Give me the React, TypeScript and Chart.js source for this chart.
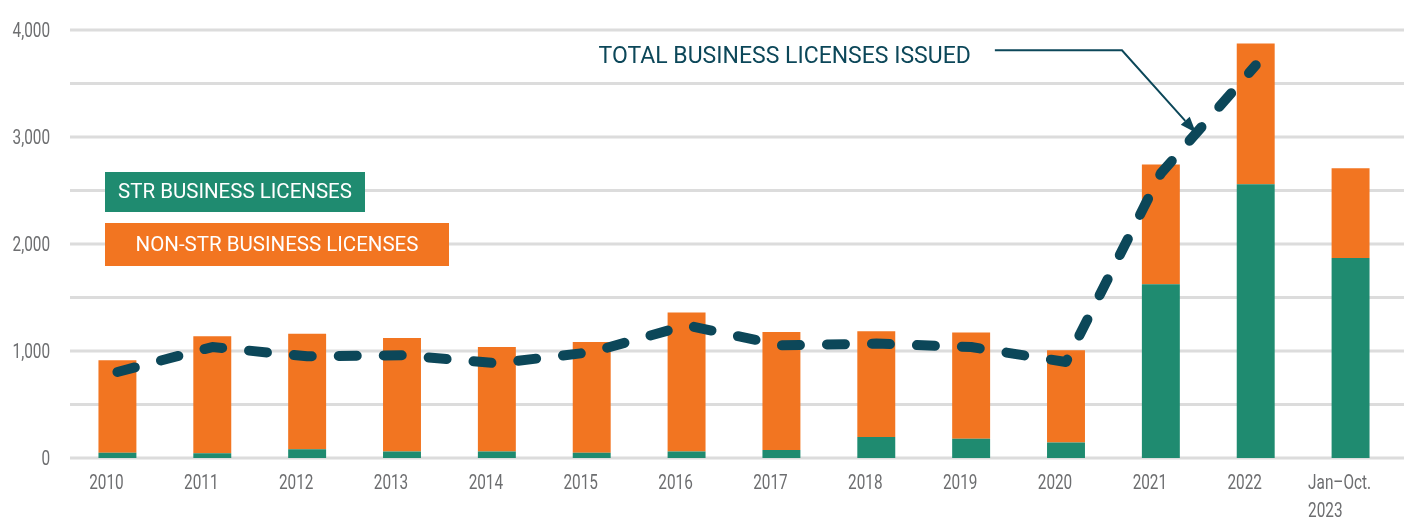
import React, { useEffect, useRef } from 'react';
import { Chart, registerables } from 'chart.js';

Chart.register(...registerables);

const categories: string[][] = [
  ['2010'], ['2011'], ['2012'], ['2013'], ['2014'], ['2015'], ['2016'],
  ['2017'], ['2018'], ['2019'], ['2020'], ['2021'], ['2022'], ['Jan–Oct.', '2023'],
];
const strValues = [50, 44, 81, 60, 60, 50, 60, 75, 196, 181, 144, 1623, 2558, 1869];
const nonStrValues = [863, 1093, 1081, 1061, 977, 1034, 1299, 1103, 988, 991, 862, 1119, 1315, 839];
const totalLine: (number | null)[] = [804, 1037, 950, 960, 885, 990, 1240, 1053, 1069, 1037, 897, 2660, 3670, null];
const yMax = 4000;
const yStep = 500;
const yTickLabels = [0, 1000, 2000, 3000, 4000];

const seriesLabels = {
  str: 'STR BUSINESS LICENSES',
  nonStr: 'NON-STR BUSINESS LICENSES',
  total: 'TOTAL BUSINESS LICENSES ISSUED',
};

const COLORS = {
  green: '#1f8b70',
  orange: '#f27521',
  line: '#0c4759',
  grid: '#dcdcdc',
  tick: '#6d6e70',
};

const TICK_FONT = '21px Roboto, "Liberation Sans", sans-serif';
const TICK_SCALE_X = 0.73;

const gridPlugin = {
  id: 'customGrid',
  beforeDatasetsDraw(chart: any) {
    const ctx = chart.ctx;
    const y = chart.scales.y;
    const left = chart.chartArea.left;
    ctx.save();
    ctx.strokeStyle = COLORS.grid;
    ctx.lineWidth = 3;
    for (let v = 0; v <= yMax; v += yStep) {
      const py = y.getPixelForValue(v);
      ctx.beginPath();
      ctx.moveTo(left, py);
      ctx.lineTo(chart.width, py);
      ctx.stroke();
    }
    ctx.restore();
  },
};

function condensedText(ctx: any, text: string, x: number, y: number, align: 'left' | 'right') {
  ctx.save();
  ctx.translate(x, y);
  ctx.scale(TICK_SCALE_X, 1);
  ctx.textAlign = align;
  ctx.fillText(text, 0, 0);
  ctx.restore();
}

const overlayPlugin = {
  id: 'overlay',
  afterDraw(chart: any) {
    const ctx = chart.ctx;
    const xs = chart.scales.x;
    const ys = chart.scales.y;
    const area = chart.chartArea;
    ctx.save();

    // tick labels
    ctx.font = TICK_FONT;
    ctx.fillStyle = COLORS.tick;
    ctx.textBaseline = 'alphabetic';
    categories.forEach((lines, i) => {
      const cx = xs.getPixelForValue(i) - 11;
      const w = Math.max(...lines.map((l) => ctx.measureText(l).width)) * TICK_SCALE_X;
      const lx = cx - w / 2;
      lines.forEach((l, j) => {
        condensedText(ctx, l, lx, area.bottom + 31 + j * 27.7, 'left');
      });
    });
    yTickLabels.forEach((v) => {
      condensedText(ctx, v.toLocaleString('en-US'), area.left - 20, ys.getPixelForValue(v) + 6.5, 'right');
    });

    // legend boxes
    const legendItems = [
      { text: seriesLabels.str, color: COLORS.green, top: 172, h: 40, w: 260 },
      { text: seriesLabels.nonStr, color: COLORS.orange, top: 223, h: 43, w: 344 },
    ];
    ctx.font = '20.5px Roboto, "Liberation Sans", sans-serif';
    ctx.textAlign = 'center';
    ctx.textBaseline = 'middle';
    legendItems.forEach((it) => {
      const bx = area.left + 35;
      ctx.fillStyle = it.color;
      ctx.fillRect(bx, it.top, it.w, it.h);
      ctx.fillStyle = '#ffffff';
      ctx.fillText(it.text, bx + it.w / 2, it.top + it.h / 2 + 1);
    });

    // annotation
    const tipX = xs.getPixelForValue(11.37);
    const tipY = ys.getPixelForValue(3040);
    const elbowX = xs.getPixelForValue(10.59);
    const lineY = ys.getPixelForValue(3810);
    const startX = xs.getPixelForValue(9.25);
    ctx.font = '23px Roboto, "Liberation Sans", sans-serif';
    ctx.fillStyle = COLORS.line;
    ctx.textAlign = 'right';
    ctx.textBaseline = 'middle';
    ctx.fillText(seriesLabels.total, startX - 24, lineY + 7);

    ctx.strokeStyle = COLORS.line;
    ctx.lineWidth = 2;
    const ang = Math.atan2(tipY - lineY, tipX - elbowX);
    const headLen = 16;
    const baseX = tipX - Math.cos(ang) * headLen;
    const baseY = tipY - Math.sin(ang) * headLen;
    ctx.beginPath();
    ctx.moveTo(startX, lineY);
    ctx.lineTo(elbowX, lineY);
    ctx.lineTo(baseX, baseY);
    ctx.stroke();
    const hw = 6;
    ctx.beginPath();
    ctx.moveTo(tipX, tipY);
    ctx.lineTo(baseX + Math.sin(ang) * hw, baseY - Math.cos(ang) * hw);
    ctx.lineTo(baseX - Math.sin(ang) * hw, baseY + Math.cos(ang) * hw);
    ctx.closePath();
    ctx.fillStyle = COLORS.line;
    ctx.fill();

    ctx.restore();
  },
};

export default function App() {
  const ref = useRef<HTMLCanvasElement | null>(null);

  useEffect(() => {
    if (!ref.current) return;
    const chart = new Chart(ref.current, {
      type: 'bar',
      data: {
        labels: categories.map((c) => c.join(' ')),
        datasets: [
          {
            type: 'line',
            label: seriesLabels.total,
            data: totalLine,
            borderColor: COLORS.line,
            borderWidth: 10,
            borderDash: [18, 27],
            borderCapStyle: 'round',
            borderJoinStyle: 'round',
            pointRadius: 0,
            tension: 0,
            fill: false,
            stack: 'total',
            order: 0,
          } as any,
          {
            label: seriesLabels.str,
            data: strValues,
            backgroundColor: COLORS.green,
            stack: 'licenses',
            order: 1,
          },
          {
            label: seriesLabels.nonStr,
            data: nonStrValues,
            backgroundColor: COLORS.orange,
            stack: 'licenses',
            order: 1,
          },
        ],
      },
      options: {
        responsive: false,
        animation: false,
        layout: { padding: { top: 30, right: 6, left: 0, bottom: 0 } },
        datasets: {
          bar: { categoryPercentage: 1, barPercentage: 0.4 },
        },
        plugins: {
          legend: { display: false },
          tooltip: { enabled: false },
        },
        scales: {
          x: {
            stacked: true,
            offset: true,
            ticks: { display: false },
            grid: { display: false },
            border: { display: false },
            afterFit: (s: any) => {
              s.height = 71;
            },
          },
          y: {
            stacked: true,
            min: 0,
            max: yMax,
            ticks: { display: false, stepSize: yStep },
            grid: { display: false, drawTicks: false },
            border: { display: false },
            afterFit: (s: any) => {
              s.width = 70;
            },
          },
        },
      } as any,
      plugins: [gridPlugin, overlayPlugin],
    });
    return () => chart.destroy();
  }, []);

  return (
    <div style={{ position: 'absolute', left: 0, top: 0, width: 1404, height: 529, background: '#fff' }}>
      <canvas ref={ref} width={1404} height={529} style={{ display: 'block' }} />
    </div>
  );
}
